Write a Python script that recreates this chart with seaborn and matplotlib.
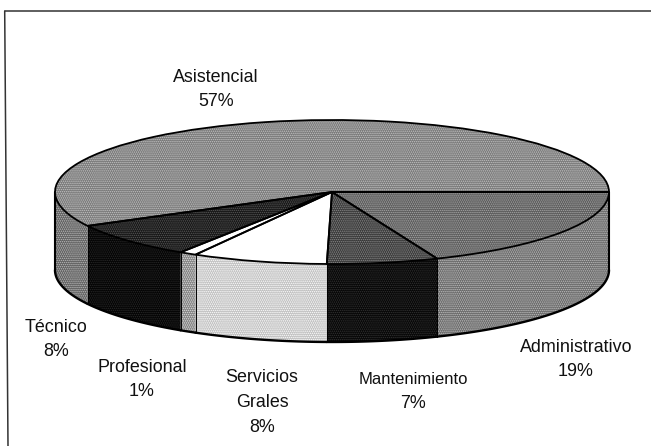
import numpy as np
import matplotlib
matplotlib.use('Agg')
import matplotlib.pyplot as plt
import seaborn as sns

# Shares (clockwise from 3 o'clock)
categories = ['Administrativo', 'Mantenimiento', 'Servicios\nGrales', 'Profesional', 'Técnico', 'Asistencial']
shares = [18.8, 6.5, 7.9, 1.0, 8.0, 57.8]
percent_labels = ['19%', '7%', '8%', '1%', '8%', '57%']

top_colors = ['#5a5a5a', '#383838', '#ffffff', '#ffffff', '#141414', '#787878']
side_colors = ['#686868', '#060606', '#c0c0c0', '#808080', '#030303', '#5e5e5e']
speckle_top = ['#a8a8a8', '#8a8a8a', '#ffffff', '#ffffff', '#5a5a5a', '#c4c4c4']
speckle_side = ['#c0c0c0', '#333333', '#ffffff', '#e0e0e0', '#2a2a2a', '#bcbcbc']
name_pos = [(576, 348), (413, 380), (262, 390), (142, 368), (56, 328), (216, 77)]
pct_pos = [(576, 372), (413, 403), (262, 427), (142, 392), (56, 352), (216, 101)]
name_size = [12.9, 12.0, 12.9, 12.9, 12.9, 12.9]

W, H = 651, 446
cx, cy, rx, ry, depth = 332, 192, 277, 72, 78

sns.set_theme(style='white')
plt.rcParams['font.family'] = ['Liberation Sans', 'DejaVu Sans']
plt.rcParams['hatch.linewidth'] = 0.7

fig = plt.figure(figsize=(W / 100, H / 100), dpi=100, facecolor='white')
ax = fig.add_axes([0, 0, 1, 1])

d = depth / ry
ends = -np.cumsum(shares) * 3.6
starts = np.concatenate([[0], ends[:-1]])

# side walls, only the front half of the cylinder shows
for i in range(len(shares)):
    a0, a1 = max(ends[i], -180), min(starts[i], 0)
    if a0 >= a1:
        continue
    th = np.radians(np.linspace(a0, a1, 80))
    x, y = np.cos(th), np.sin(th)
    ax.fill_between(x, y, y - d, facecolor=side_colors[i], edgecolor=speckle_side[i],
                    hatch='........', linewidth=0, zorder=1)
    ax.plot(x, y - d, color='black', lw=1.7, zorder=3)
    ax.plot(x[[0, 0]], [y[0], y[0] - d], color='black', lw=0.7, zorder=3)
ax.plot([-1, -1], [0, -d], color='black', lw=1.5, zorder=3)
ax.plot([1, 1], [0, -d], color='black', lw=1.5, zorder=3)

# top face, once for the fill and once for the outlines
wedges, _ = ax.pie(shares, startangle=0, counterclock=False, radius=1, colors=top_colors,
                   wedgeprops={'linewidth': 0, 'zorder': 4})
for w, s in zip(wedges, speckle_top):
    w.set_edgecolor(s)
    if s != '#ffffff':
        w.set_hatch('........')
ax.pie(shares, startangle=0, counterclock=False, radius=1,
       wedgeprops={'fill': False, 'edgecolor': 'black', 'linewidth': 1.3, 'zorder': 5})

ax.set_aspect('auto')
ax.set_xlim((0 - cx) / rx, (W - cx) / rx)
ax.set_ylim((cy - H) / ry, cy / ry)
ax.axis('off')

# labels
for name, pct, (nx, ny), (px, py), size in zip(categories, percent_labels, name_pos, pct_pos, name_size):
    fig.text(nx / W, 1 - ny / H, name, ha='center', va='center', ma='center',
             fontsize=size, color='#111111', linespacing=1.55)
    fig.text(px / W, 1 - py / H, pct, ha='center', va='center', fontsize=12.9, color='#111111')

# outer frame, only the top and left edges survive in the scan
fig.add_artist(plt.Line2D([4.7 / W, 651 / W], [1 - 11 / H, 1 - 11 / H], color='#333333', lw=1.1))
fig.add_artist(plt.Line2D([4.7 / W, 8 / W], [1 - 11 / H, 0], color='#333333', lw=1.1))

fig.savefig('out.png', dpi=100)
